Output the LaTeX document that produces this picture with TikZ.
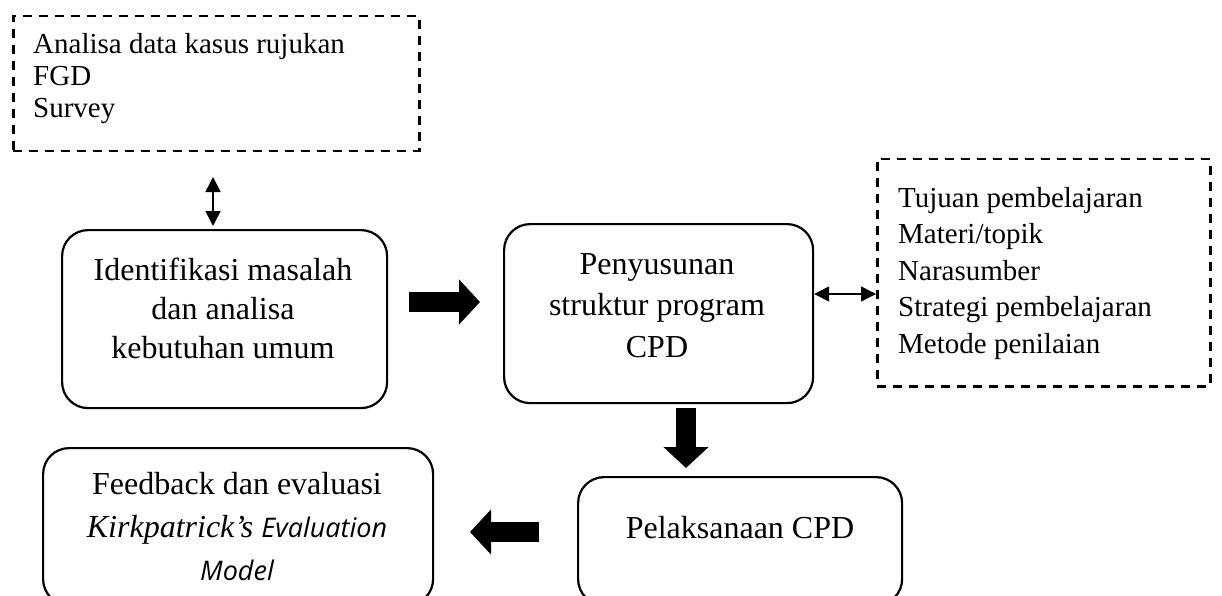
\documentclass[tikz,border=0pt]{standalone}
\usepackage{fontspec}
\setmainfont{Liberation Serif}
\newfontfamily\evalfont{Open Sans}
\usetikzlibrary{arrows.meta,calc}
\begin{document}
\begin{tikzpicture}[x=1pt,y=-1pt,
  rbox/.style={draw, line width=2.2pt, rounded corners=26pt, inner sep=0pt, anchor=north west},
  dbox/.style={draw, line width=2.5pt, dash pattern=on 9pt off 7pt, inner sep=0pt, anchor=north west},
  smalltxt/.style={inner sep=0pt, align=left, anchor=north west},
  bigtxt/.style={inner sep=0pt, align=center, anchor=north},
  thinarrow/.style={line width=1.5pt, {Triangle[width=15pt,length=15pt]}-{Triangle[width=15pt,length=15pt]}},
  fatarrow/.style={line width=20pt, -{Triangle[width=44pt,length=21pt]}},
]
\useasboundingbox (0,0) rectangle (1222,596);
\clip (0,0) rectangle (1222,596);

% dashed boxes
\node[dbox, minimum width=406pt, minimum height=135pt] (d1) at (12,15) {};
\node[dbox, minimum width=333pt, minimum height=227pt] (d2) at (876,158) {};
\node[smalltxt, font=\fontsize{29}{32}\selectfont] (t1) at (33,30.6)
  {\strut Analisa data kasus rujukan\\FGD\\Survey};
\node[smalltxt, font=\fontsize{29}{36.5}\selectfont] (t2) at (898,181.5)
  {\strut Tujuan pembelajaran\\Materi/topik\\Narasumber\\Strategi pembelajaran\\Metode penilaian};

% rounded boxes
\node[rbox, minimum width=325pt, minimum height=178pt] (b1) at (61,229) {};
\node[rbox, minimum width=309pt, minimum height=179pt] (b2) at (503,223) {};
\node[rbox, minimum width=324pt, minimum height=128pt] (b3) at (577,476) {};
\node[rbox, minimum width=390pt, minimum height=157pt] (b4) at (42,447) {};

\node[bigtxt, font=\fontsize{32}{39}\selectfont] (t3) at (223,252.7)
  {\strut Identifikasi masalah\\dan analisa\\kebutuhan umum};
\node[bigtxt, font=\fontsize{32}{41.5}\selectfont] (t4) at (657,245)
  {\strut Penyusunan\\struktur program\\CPD};
\node[inner sep=0pt, anchor=base, font=\fontsize{32}{39}\selectfont] (t5) at (740,538)
  {Pelaksanaan CPD};
\node[bigtxt, font=\fontsize{32}{43}\selectfont] (t6) at (237,463.9)
  {\strut Feedback dan evaluasi\\{\itshape Kirkpatrick’s} {\evalfont\itshape\fontsize{27}{43}\selectfont Evaluation}\\{\evalfont\itshape\fontsize{27}{43}\selectfont Model}};

% thin double arrows
\coordinate (v1) at (213,177);
\coordinate (v2) at (213,226);
\draw[thinarrow] (v1) -- (v2);
\coordinate (h) at (0,294);
\draw[thinarrow] (b2.east |- h) -- (d2.west |- h);

% block arrows
\coordinate (r1) at (409,302);
\coordinate (r2) at (480,302);
\draw[fatarrow] (r1) -- (r2);
\coordinate (s1) at (686,408);
\coordinate (s2) at (686,468);
\draw[fatarrow] (s1) -- (s2);
\coordinate (l1) at (539,532);
\coordinate (l2) at (470,532);
\draw[fatarrow] (l1) -- (l2);
\end{tikzpicture}
\end{document}
